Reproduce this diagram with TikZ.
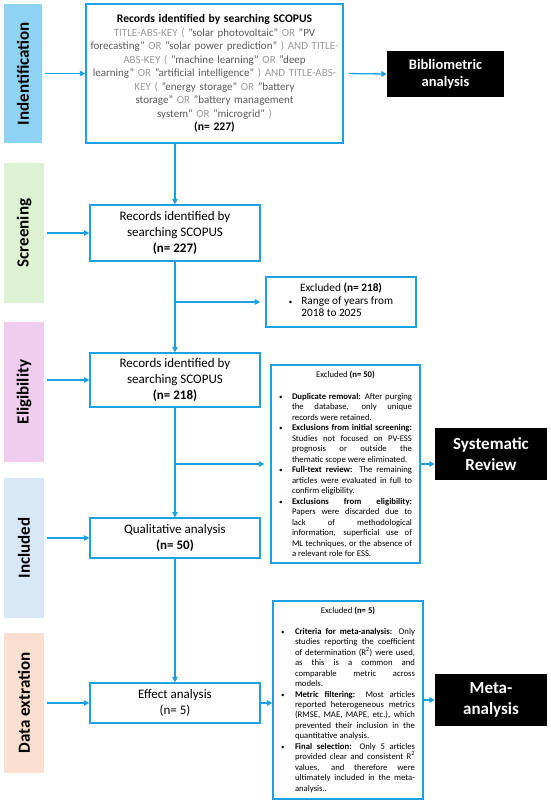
\documentclass[tikz,border=0pt]{standalone}
\usepackage{fontspec}
\setmainfont{Carlito}
\usetikzlibrary{arrows.meta}
\definecolor{lineblue}{HTML}{1BA1E2}
\definecolor{kwgray}{HTML}{9A9A9A}
\definecolor{qtgray}{HTML}{595959}
\definecolor{barA}{HTML}{8FD3F3}
\definecolor{barB}{HTML}{DCF2D2}
\definecolor{barC}{HTML}{F0CCEE}
\definecolor{barD}{HTML}{D8E8F6}
\definecolor{barE}{HTML}{FBDFD0}
\newcommand{\kw}[1]{\textcolor{kwgray}{#1}}
\newcommand{\smallbullet}{{\fontsize{7}{7}\selectfont•}}
\newcommand{\bitem}[2][13pt]{\par\noindent\hangindent=#1\hangafter=1\makebox[#1][l]{\smallbullet}#2\par}
\begin{document}
\begin{tikzpicture}[x=1pt,y=-1pt,
  box/.style={draw=lineblue, line width=1.3pt, inner sep=0pt, align=center},
  sidebar/.style={rotate=90, minimum width=140pt, minimum height=40pt, inner sep=0pt, font=\fontsize{17}{20}\selectfont\bfseries},
  blackbox/.style={fill=black, text=white, minimum width=112pt, minimum height=52pt, inner sep=0pt, align=center, font=\fontsize{17}{20.5}\selectfont\bfseries},
  arr/.style={draw=lineblue, line width=1.3pt, -{Triangle[length=5.5pt,width=5.5pt]}},
  ]
\useasboundingbox (0,0) rectangle (550,806);

% side bars
\node[sidebar, fill=barA, minimum width=139pt, minimum height=38pt] (s1) at (23,73.5) {Indentification};
\node[sidebar, fill=barB] (s2) at (24,233) {Screening};
\node[sidebar, fill=barC] (s3) at (24,392) {Eligibility};
\node[sidebar, fill=barD] (s4) at (24,548) {Included};
\node[sidebar, fill=barE] (s5) at (24,703) {Data extration};

% main flow
\node[box, minimum width=257pt, minimum height=139pt, text width=257pt, text=qtgray, font=\fontsize{11}{13.5}\selectfont] (idbox) at (214.5,73.5)
 {\textcolor{black}{\fontsize{11.6}{13.5}\selectfont\textbf{Records identified by searching SCOPUS}}\\
  \kw{TITLE-ABS-KEY (} "solar photovoltaic" \kw{OR} "PV\\
  forecasting" \kw{OR} "solar power prediction" \kw{) AND TITLE-}\\
  \kw{ABS-KEY (} "machine learning" \kw{OR} "deep\\
  learning" \kw{OR} "artificial intelligence" \kw{) AND TITLE-ABS-}\\
  \kw{KEY (} "energy storage" \kw{OR} "battery\\
  storage" \kw{OR} "battery management\\
  system" \kw{OR} "microgrid" \kw{)}\\
  \textcolor{black}{\fontsize{11.6}{13.5}\selectfont\textbf{(n= 227)}}};

\node[box, minimum width=170pt, minimum height=56pt, font=\fontsize{13}{16}\selectfont] (scr) at (175,233)
 {Records identified by\\searching SCOPUS\\\textbf{(n= 227)}};

\node[box, minimum width=150pt, minimum height=50pt, font=\fontsize{11.3}{13.5}\selectfont] (ex1) at (341,302)
 {Excluded \textbf{(n= 218)}\\[-0.5pt]
  \begin{tabular}[t]{@{}l@{\hspace{9pt}}l@{}}\smallbullet&Range of years from\\[-1.5pt]&2018 to 2025\end{tabular}};

\node[box, minimum width=170pt, minimum height=54pt, font=\fontsize{13}{16}\selectfont] (elig) at (175,380)
 {Records identified by\\searching SCOPUS\\\textbf{(n= 218)}};

\node[box, minimum width=149pt, minimum height=198pt, text width=133pt, inner xsep=8pt, align=justify, font=\fontsize{8.7}{10.5}\selectfont] (ex2) at (345.5,464)
 {{\centering Excluded \textbf{(n= 50)}\par}\vspace{11pt}
  \bitem{\textbf{Duplicate removal:} After purging\linebreak the database, only unique\linebreak records were retained.}
  \bitem{\textbf{Exclusions from initial screening:}\linebreak Studies not focused on PV-ESS\linebreak prognosis or outside the\linebreak thematic scope were eliminated.}
  \bitem{\textbf{Full-text review:} The remaining\linebreak articles were evaluated in full to\linebreak confirm eligibility.}
  \bitem{\textbf{Exclusions from eligibility:}\linebreak Papers were discarded due to\linebreak lack of methodological\linebreak information, superficial use of\linebreak ML techniques, or the absence of\linebreak a relevant role for ESS.}};

\node[box, minimum width=170pt, minimum height=40pt, font=\fontsize{13}{16.5}\selectfont] (qual) at (175,538)
 {Qualitative analysis\\\textbf{(n= 50)}};

\node[box, minimum width=170pt, minimum height=40pt, font=\fontsize{13}{16.5}\selectfont] (eff) at (175,703)
 {Effect analysis\\(n= 5)};

\node[box, minimum width=150pt, minimum height=198pt, text width=134pt, inner xsep=8pt, align=justify, font=\fontsize{8.7}{10.45}\selectfont] (ex5) at (348,700)
 {{\centering Excluded \textbf{(n= 5)}\par}\vspace{10pt}
  \bitem[14pt]{\textbf{Criteria for meta-analysis:} Only\linebreak studies reporting the coefficient\linebreak of determination (R\textsuperscript{2}) were used,\linebreak as this is a common and\linebreak comparable metric across\linebreak models.}
  \bitem[14pt]{\textbf{Metric filtering:} Most articles\linebreak reported heterogeneous metrics\linebreak (RMSE, MAE, MAPE, etc.), which\linebreak prevented their inclusion in the\linebreak quantitative analysis.}
  \bitem[14pt]{\textbf{Final selection:} Only 5 articles\linebreak provided clear and consistent R\textsuperscript{2}\linebreak values, and therefore were\linebreak ultimately included in the meta-\linebreak analysis..}};

% black boxes
\node[blackbox, minimum width=117pt, minimum height=46pt, font=\fontsize{14.5}{17.7}\selectfont\bfseries] (bib) at (445.5,74) {Bibliometric\\analysis};
\node[blackbox] (sr) at (491,454) {Systematic\\Review};
\node[blackbox] (meta) at (491,700) {Meta-\\analysis};

% connectors
\draw[arr, shorten <=3pt] (s1.south |- idbox.west) -- (idbox.west);
\draw[arr, shorten <=3pt] (s2.south |- scr.west) -- (scr.west);
\draw[arr, shorten <=3pt] (s3.south |- elig.west) -- (elig.west);
\draw[arr, shorten <=3pt] (s4.south |- qual.west) -- (qual.west);
\draw[arr, shorten <=3pt] (s5.south |- eff.west) -- (eff.west);
\draw[arr, shorten <=5pt] (idbox.east) -- (bib.west);
\draw[arr] (idbox.south -| scr.north) -- (scr.north);
\draw[arr] (scr.south) -- (elig.north);
\draw[arr, shorten >=5pt] (scr.south |- ex1.west) -- (ex1.west);
\draw[arr] (elig.south) -- (qual.north);
\draw[arr, shorten >=6pt] (elig.south |- ex2.west) -- (ex2.west);
\draw[arr] (qual.south) -- (eff.north);
\draw[arr] (eff.east) -- (eff.east -| ex5.west);
\draw[arr] (ex2.east) -- (ex2.east -| sr.west);
\draw[arr] (ex5.east) -- (meta.west);
\end{tikzpicture}
\end{document}
